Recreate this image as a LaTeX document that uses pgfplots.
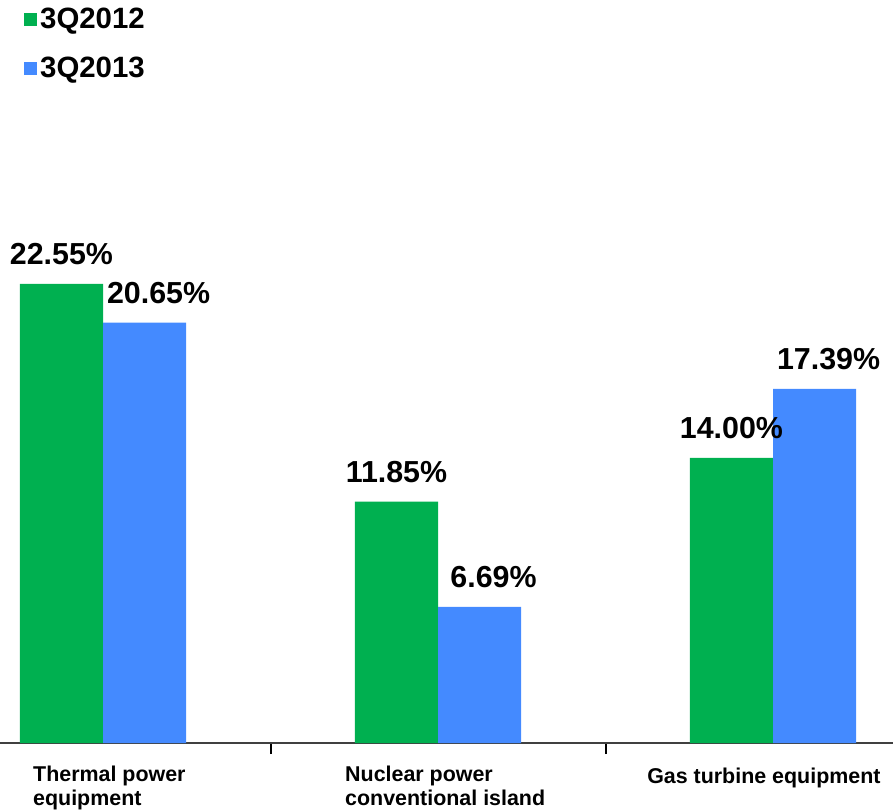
\documentclass[border=0pt]{standalone}
\usepackage{pgfplots}
\pgfplotsset{compat=1.18}
\usepackage{fontspec}
\setmainfont{Liberation Sans}
\definecolor{grn}{RGB}{0,176,80}
\definecolor{blu}{RGB}{68,138,255}
\definecolor{axisgray}{RGB}{64,64,64}

\begin{document}
\begin{tikzpicture}
\useasboundingbox (0,-69bp) rectangle (893bp,743bp);
\begin{axis}[
  scale only axis,
  width=893bp, height=743bp,
  xmin=-0.3075, xmax=2.3582,
  ymin=0, ymax=36.49,
  clip=false,
  axis y line=none,
  axis x line*=bottom,
  x axis line style={draw=axisgray, line width=2bp},
  xtick={0.5,1.5},
  xticklabels={},
  tick align=outside,
  every tick/.append style={draw=black, line width=2bp},
  major tick style={draw=black, line width=2bp},
  xtick style={draw=black, line width=2bp},
  major tick length=11bp,
  ytick=\empty,
  ybar=0pt,
  bar width=0.248,
  nodes near coords={\pgfmathprintnumber[fixed,fixed zerofill,precision=2,assume math mode=true]{\pgfplotspointmeta}\%},
  every node near coord/.append style={font=\fontsize{30.5}{31}\selectfont\bfseries, inner sep=0pt, anchor=south, yshift=19bp, text=black},
  legend image code/.code={\fill[#1] (0bp,-6.5bp) rectangle (13bp,6.5bp);},
  legend style={
    at={(0,1)}, anchor=north west, xshift=24bp, yshift=-8bp,
    draw=none, fill=none, inner sep=0pt,
    font=\fontsize{29.5}{30}\selectfont\bfseries,
    nodes={inner sep=0pt},
    column sep=3bp, row sep=27bp,
  },
  legend cell align=left,
]
\addplot[fill=grn, draw=none] coordinates {(0,22.55) (1,11.85) (2,14.00)};
\addplot[fill=blu, draw=none, every node near coord/.append style={xshift=14bp}] coordinates {(0,20.65) (1,6.69) (2,17.39)};
\legend{3Q2012,3Q2013}

\begin{scope}[every node/.style={font=\fontsize{21.5}{24}\selectfont\bfseries, inner sep=0pt, anchor=north west, align=left}]
\node at (axis cs:-0.209,0) [yshift=-23bp] {Thermal power\\equipment};
\node at (axis cs:0.7224,0) [yshift=-23bp] {Nuclear power\\conventional island};
\node at (axis cs:1.624,0) [yshift=-25bp] {Gas turbine equipment};
\end{scope}
\end{axis}
\end{tikzpicture}
\end{document}
